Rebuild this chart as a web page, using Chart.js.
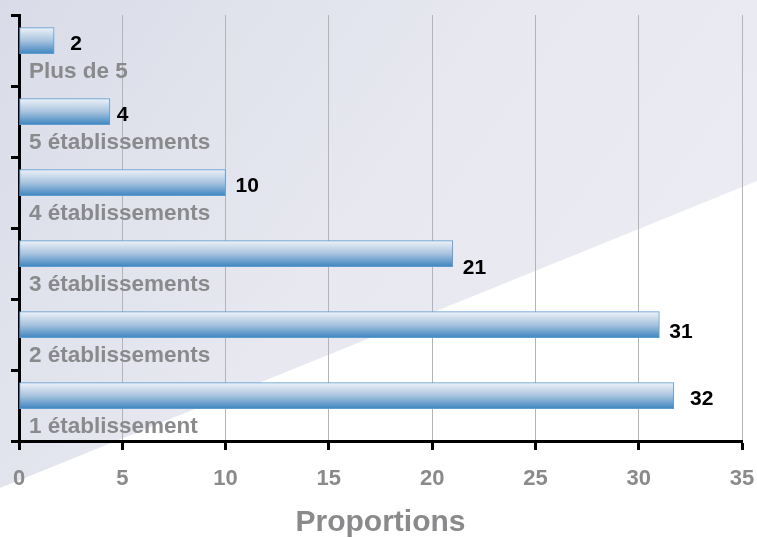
<!DOCTYPE html>
<html>
<head>
<meta charset="utf-8">
<script src="https://cdn.jsdelivr.net/npm/chart.js@4.4.0/dist/chart.umd.min.js"></script>
<style>
    html, body { margin: 0; padding: 0; background: #fff; }
    #wrap { width: 757px; height: 538px; position: relative; }
</style>
</head>
<body>
<div id="wrap"><canvas id="propChart" width="757" height="538"></canvas></div>
<script>
// Categories from top to bottom
const categories = ['Plus de 5', '5 établissements', '4 établissements', '3 établissements', '2 établissements', '1 établissement'];
// Bar lengths
const values = [1.7, 4.4, 10.0, 21.0, 31.0, 31.7];
const xTicks = [0, 5, 10, 15, 20, 25, 30, 35];
const axisTitle = 'Proportions';

const BAR_POS = 0.36;   // bar centre inside each band
const LABEL_POS = 0.887; // category text baseline inside each band
// small hand nudges of the value labels, as in the original
const labelNudgeX = [0, 5, 0, 0, 0, 0];
const labelNudgeY = [0, 0, 0, 11, 4, 0];

const FONT = '"Liberation Sans", Arial, sans-serif';

// soft photo-like background with the white diagonal
const backgroundPlugin = {
    id: 'photoBackground',
    beforeDraw(chart) {
        const ctx = chart.ctx;
        const w = chart.width, h = chart.height;
        ctx.save();
        ctx.fillStyle = '#ffffff';
        ctx.fillRect(0, 0, w, h);
        const g = ctx.createLinearGradient(0, 0, w, h);
        g.addColorStop(0, '#d9dce8');
        g.addColorStop(0.45, '#e7e8f0');
        g.addColorStop(1, '#eeeef4');
        ctx.fillStyle = g;
        ctx.beginPath();
        ctx.moveTo(0, 0);
        ctx.lineTo(w, 0);
        ctx.lineTo(w, 181);
        ctx.lineTo(0, 488);
        ctx.closePath();
        ctx.fill();
        ctx.restore();
    }
};

// category names under the bars and value labels right of the bars
const labelPlugin = {
    id: 'barLabels',
    afterDatasetsDraw(chart) {
        const ctx = chart.ctx;
        const xs = chart.scales.x, ys = chart.scales.y;
        ctx.save();
        ctx.textBaseline = 'alphabetic';
        ctx.textAlign = 'left';
        categories.forEach((name, i) => {
            ctx.font = 'bold 22.5px ' + FONT;
            ctx.fillStyle = '#8a8a8c';
            ctx.fillText(name, xs.left + 10, ys.getPixelForValue(i + LABEL_POS));
            ctx.font = 'bold 21px ' + FONT;
            ctx.fillStyle = '#000';
            const v = Math.round(values[i]);
            ctx.fillText(String(v), xs.getPixelForValue(v) + 10 + labelNudgeX[i],
                ys.getPixelForValue(i + BAR_POS) + 9 + labelNudgeY[i]);
        });
        ctx.restore();
    }
};

function barGradient(context) {
    const chart = context.chart;
    const ys = chart.scales.y;
    const c = ys ? ys.getPixelForValue(context.dataIndex + BAR_POS) : NaN;
    if (!isFinite(c)) return '#8fb5da';
    const g = chart.ctx.createLinearGradient(0, c - 13, 0, c + 13);
    g.addColorStop(0, '#eef2f8');
    g.addColorStop(0.5, '#a9c4df');
    g.addColorStop(1, '#3f86c0');
    return g;
}

const ctx = document.getElementById('propChart');
new Chart(ctx, {
    type: 'bar',
    data: {
        datasets: [{
            data: values.map((v, i) => ({ x: v, y: i + BAR_POS })),
            backgroundColor: barGradient,
            borderColor: '#5d9cd0',
            borderWidth: 1,
            borderSkipped: false,
            barThickness: 26
        }]
    },
    options: {
        indexAxis: 'y',
        responsive: false,
        animation: false,
        layout: { padding: { top: 15, right: 15, left: 0, bottom: 0 } },
        plugins: {
            legend: { display: false },
            tooltip: { enabled: false }
        },
        scales: {
            x: {
                type: 'linear',
                min: 0,
                max: 35,
                afterBuildTicks: scale => { scale.ticks = xTicks.map(v => ({ value: v })); },
                afterFit: scale => {
                    scale.height = 97;
                    scale.paddingLeft = 0;
                    scale.paddingRight = 0;
                },
                grid: {
                    color: '#b3b3b8',
                    lineWidth: 1,
                    tickColor: '#000',
                    tickWidth: 3,
                    tickLength: 9
                },
                border: { color: '#000', width: 3 },
                ticks: {
                    color: '#8a8a8c',
                    padding: 16,
                    maxRotation: 0,
                    font: { family: FONT, size: 22, weight: 'bold' }
                },
                title: {
                    display: true,
                    text: axisTitle,
                    color: '#8a8a8c',
                    padding: { top: 0, bottom: 0 },
                    font: { family: FONT, size: 30, weight: 'bold', lineHeight: 1 }
                }
            },
            y: {
                type: 'linear',
                reverse: true,
                offset: false,
                min: 0,
                max: categories.length,
                afterBuildTicks: scale => { scale.ticks = categories.concat(['']).map((c, i) => ({ value: i })); },
                afterFit: scale => { scale.width = 19; },
                grid: {
                    offset: false,
                    drawOnChartArea: false,
                    tickColor: '#000',
                    tickWidth: 3,
                    tickLength: 8
                },
                border: { color: '#000', width: 3 },
                ticks: { display: false }
            }
        }
    },
    plugins: [backgroundPlugin, labelPlugin]
});
</script>
</body>
</html>
